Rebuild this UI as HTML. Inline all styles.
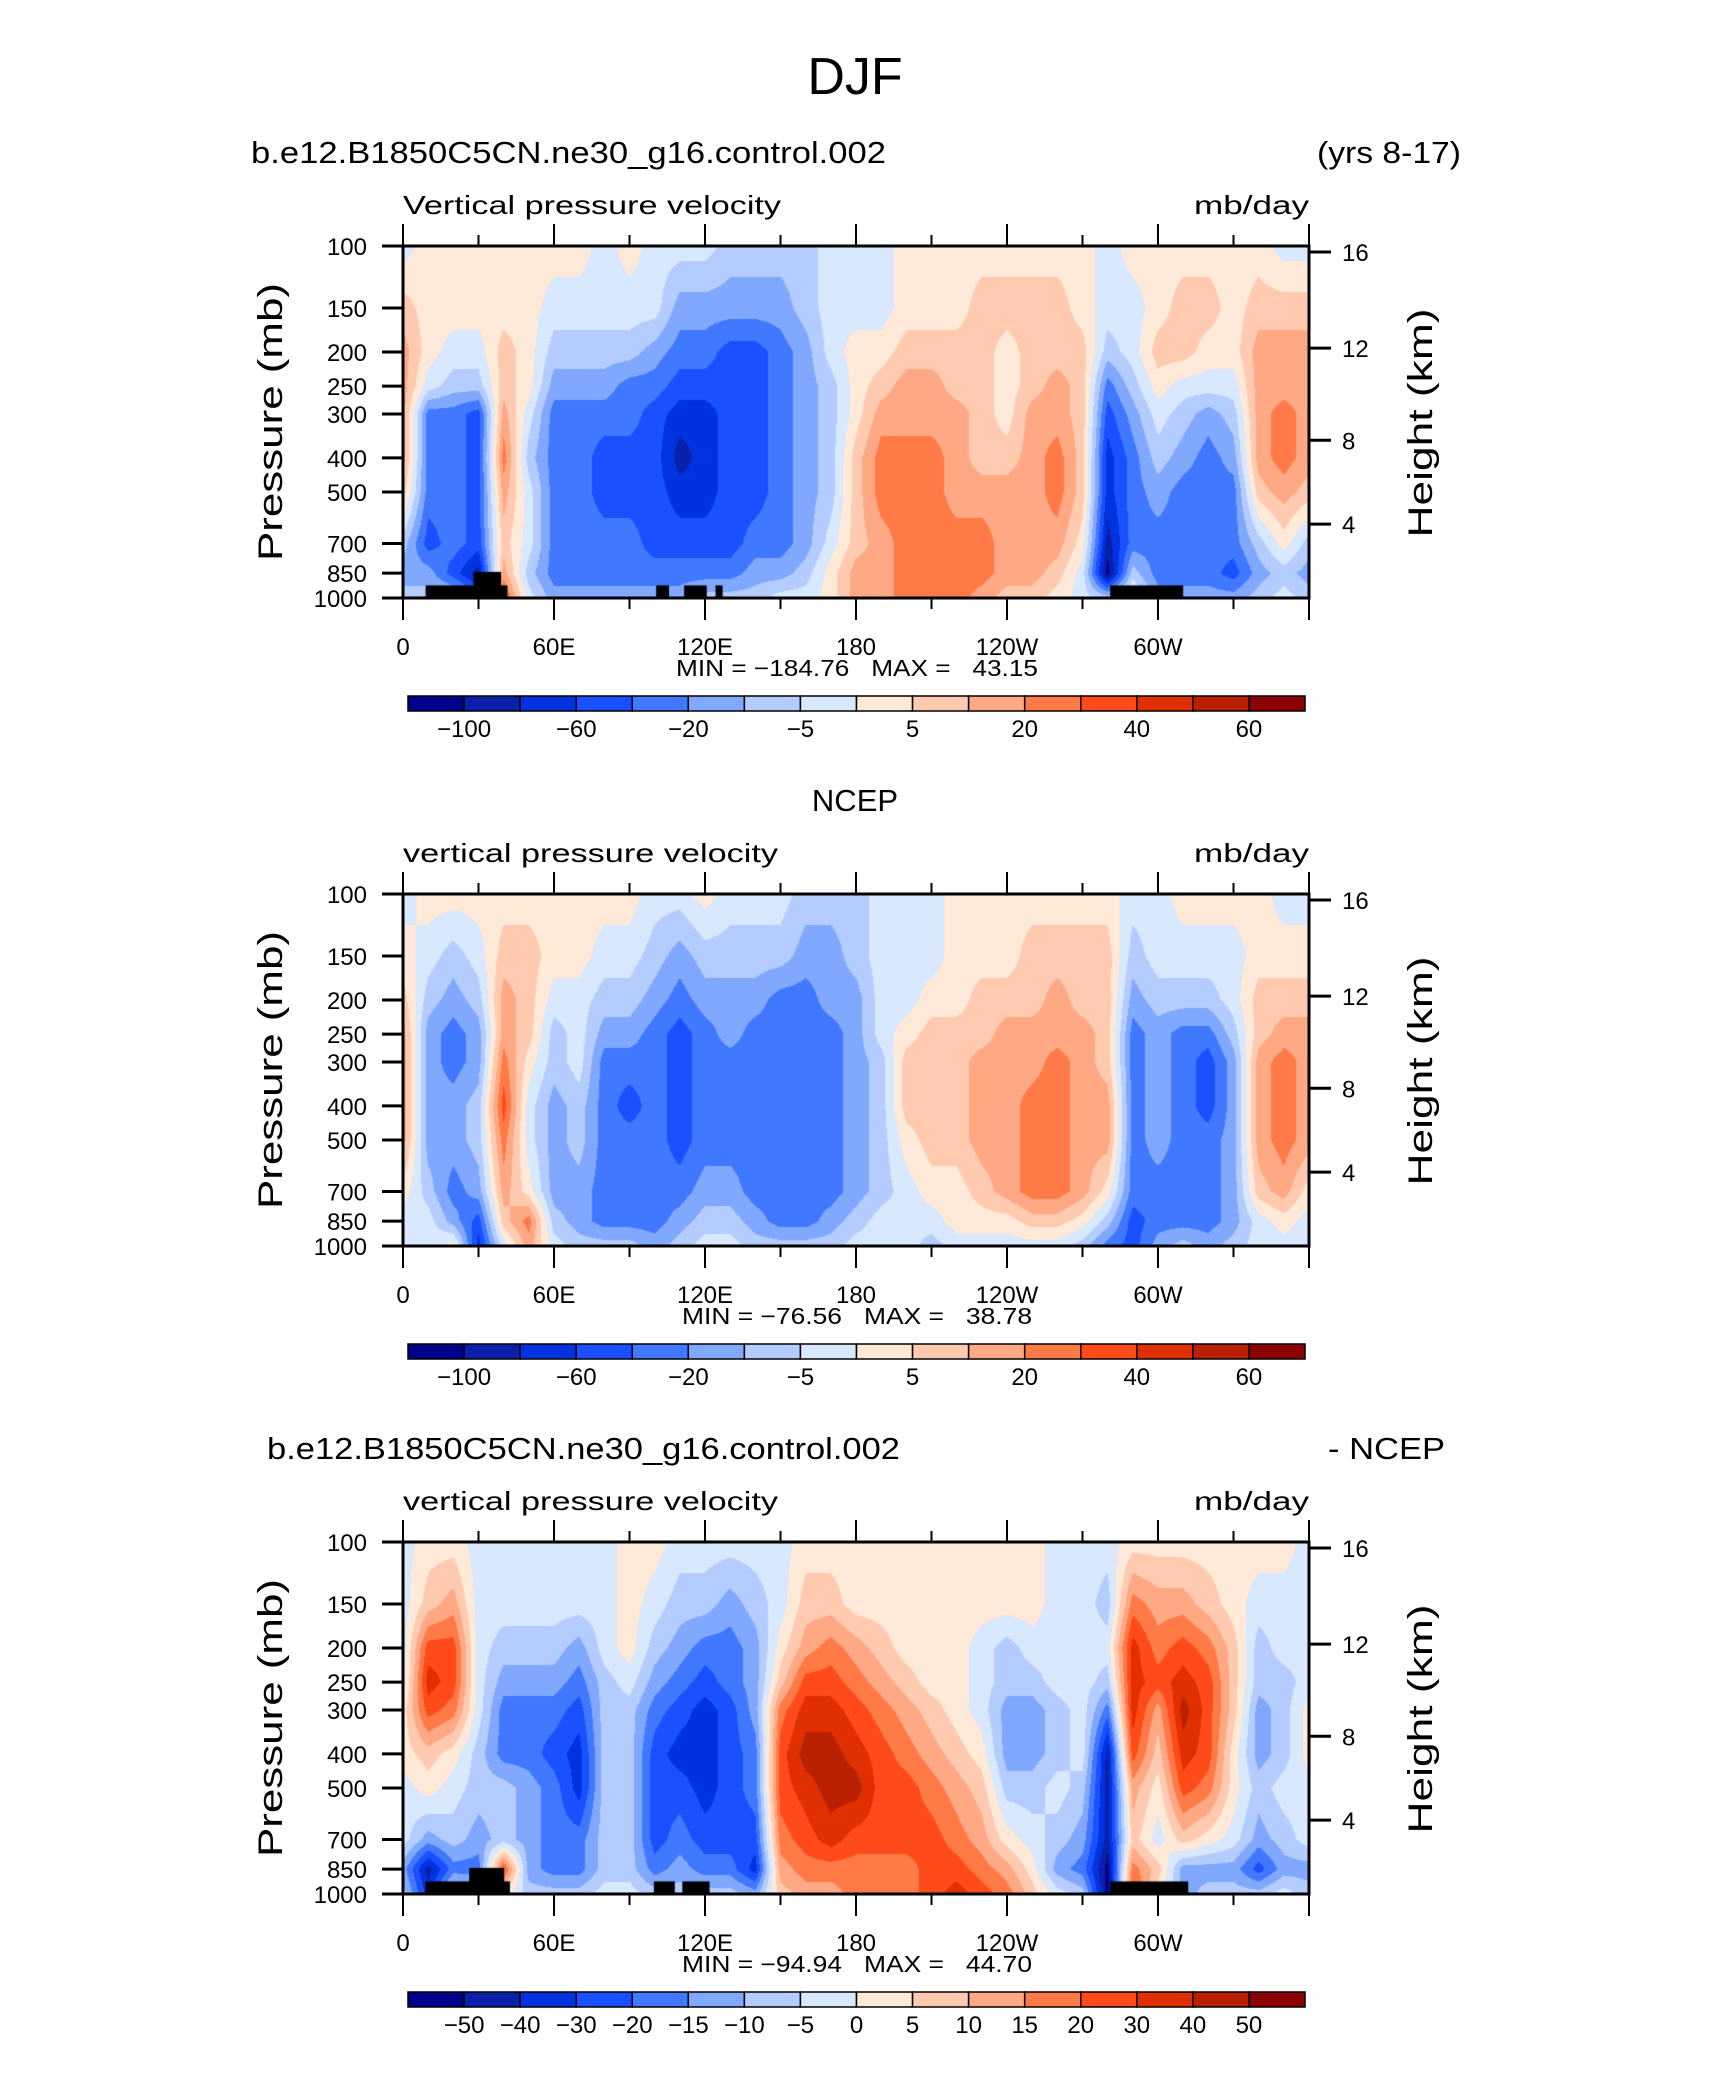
<!DOCTYPE html>
<html><head><meta charset="utf-8"><title>DJF vertical pressure velocity</title>
<style>
html,body{margin:0;padding:0;background:#fff;}
#wrap{position:relative;width:1710px;height:2074px;overflow:hidden;background:#fff;}
canvas{position:absolute;}
svg{position:absolute;left:0;top:0;}
text{font-family:"Liberation Sans",sans-serif;fill:#000;white-space:pre;}
</style></head>
<body>
<div id="wrap">
<canvas id="c0" width="906" height="352" style="left:403px;top:246px"></canvas>
<canvas id="c1" width="906" height="352" style="left:403px;top:894px"></canvas>
<canvas id="c2" width="906" height="352" style="left:403px;top:1542px"></canvas>
<svg id="svg" width="1710" height="2074"></svg>
</div>
<script>
// ---------- data ----------
const LONS = [0,10,20,30,40,50,60,70,80,90,100,110,120,130,140,150,160,170,180,190,200,210,220,230,240,250,260,270,280,290,300,310,320,330,340,350,360];
const PLEV = [100,150,200,250,300,400,500,700,850,1000];
const pTickLabels = ['100','150','200','250','300','400','500','700','850','1000'];
const hTickLabels = ['16','12','8','4'];
const hTickFrac = [0.017,0.29,0.552,0.79];
const lonTicks = [0,60,120,180,240,300];
const lonTickLabels = ['0','60E','120E','180','120W','60W'];
const levels12 = ['−100','−80','−60','−40','−20','−10','−5','0','5','10','20','30','40','50','60'];
const levelsDiff = ['−50','−40','−30','−20','−15','−10','−5','0','5','10','15','20','30','40','50'];
const labelEvery12 = [1,0,1,0,1,0,1,0,1,0,1,0,1,0,1];
const COLORS = ['#00008c','#0a20aa','#0032e0','#1a50ff','#4078ff','#80a8ff','#b4ccff','#d8e8ff','#ffe9d8','#ffcab0','#ffa884','#ff7a46','#ff4a1a','#e03000','#b82000','#8b0000'];

// contour class per longitude column (rows = PLEV, top to bottom)
const ctrlClass = [
[7,9,10,10,10,10,9,6,5,6],[8,8,8,7,4,4,4,3,5,6],[8,8,7,6,4,4,4,4,3,6],[8,8,7,6,3,3,3,3,1,4],
[8,8,9,9,10,11,10,9,10,12],[8,8,8,8,7,6,7,7,6,7],[8,7,6,5,4,4,4,4,4,5],[8,7,6,5,4,4,4,4,4,5],
[7,7,6,5,4,3,3,4,4,5],[8,7,6,4,4,3,3,4,4,5],[7,7,5,4,3,3,3,3,4,5],[7,5,4,3,2,1,2,3,4,5],
[7,5,4,3,2,2,2,3,4,6],[6,5,3,3,3,3,3,3,4,6],[6,5,3,3,3,3,3,4,5,6],[6,5,4,4,4,4,4,4,5,7],
[6,6,5,5,5,5,5,5,6,7],[7,7,7,6,6,6,6,7,8,8],[7,7,8,8,8,9,9,9,10,10],[7,7,8,9,10,11,11,10,10,10],
[8,8,9,10,10,11,11,11,11,11],[8,8,9,10,10,11,11,11,11,11],[8,8,9,9,10,10,10,11,11,11],[8,9,9,9,9,9,10,11,11,10],
[8,9,8,8,8,9,10,10,10,9],[8,9,9,9,10,10,10,10,10,9],[8,9,9,10,10,11,11,10,9,8],[8,8,9,9,9,9,9,8,7,7],
[7,7,6,4,3,2,2,1,0,6],[8,7,7,6,5,4,4,4,6,8],[8,8,9,8,7,6,5,4,4,5],[8,9,9,7,6,5,4,4,4,5],
[8,9,8,7,5,4,4,4,4,5],[8,8,8,7,6,5,4,4,3,5],[8,9,10,10,10,10,9,6,5,6],[7,9,10,10,11,11,10,8,6,7],
[7,9,10,10,10,10,9,6,5,6]];
const ncepClass = [
[7,8,9,10,10,10,10,8,7,7],[8,7,6,5,5,5,5,6,7,7],[8,6,5,4,4,5,5,4,5,8],[8,7,6,5,5,6,6,5,3,2],
[8,9,10,10,11,12,11,10,9,7],[8,9,9,9,8,7,7,8,11,10],[8,8,7,6,6,5,5,5,6,7],[8,8,7,7,7,6,6,5,5,6],
[8,7,6,5,4,4,4,4,4,6],[8,7,6,5,4,3,4,4,4,6],[7,6,5,4,4,4,4,4,4,5],[7,5,4,3,3,3,3,4,5,6],
[8,6,5,4,4,4,4,5,6,7],[7,6,5,5,4,4,4,5,6,7],[7,6,5,4,4,4,4,4,5,6],[7,6,4,4,4,4,4,4,4,6],
[6,5,4,4,4,4,4,4,4,6],[6,5,5,4,4,4,4,4,5,6],[6,6,5,5,5,5,5,5,6,7],[7,7,7,7,6,6,6,6,7,7],
[7,7,7,8,9,9,8,7,7,7],[7,7,8,9,9,9,9,8,7,6],[8,8,8,9,9,9,9,8,8,7],[8,8,9,9,10,10,10,9,8,7],
[8,8,9,10,10,10,10,10,8,7],[8,9,9,10,10,11,11,11,9,7],[8,9,10,10,11,11,11,11,9,7],[8,9,9,10,10,10,10,10,8,6],
[8,9,9,9,9,10,10,8,6,4],[7,6,5,4,4,4,4,4,3,3],[7,7,6,5,5,5,5,4,4,5],[8,7,6,4,4,4,4,4,4,6],
[8,7,6,4,3,3,4,4,4,5],[8,7,7,6,5,5,5,5,5,6],[8,8,9,9,10,10,10,9,7,7],[7,8,9,10,11,11,11,10,8,7],
[7,8,9,10,10,10,10,8,7,7]];
const diffClass = [
[7,7,7,7,8,8,7,7,5,6],[8,9,12,13,12,9,8,5,1,2],[8,10,12,12,11,8,7,6,4,7],[7,7,7,7,7,6,6,5,4,6],
[7,7,6,5,4,4,6,6,12,8],[7,7,6,5,4,4,5,5,5,6],[7,7,6,5,4,3,4,4,4,6],[7,7,5,4,3,2,2,4,4,6],
[7,7,7,6,6,6,6,6,6,7],[8,8,8,7,6,6,6,6,6,7],[8,7,6,5,4,3,3,3,4,6],[7,6,5,4,3,2,3,4,5,6],
[7,6,4,3,2,2,2,3,4,6],[7,5,4,4,3,3,3,3,4,6],[7,6,5,5,5,4,4,3,2,5],[7,7,8,9,11,12,12,11,10,9],
[8,9,10,12,13,14,13,12,11,10],[8,9,11,12,13,14,14,13,11,10],[8,8,10,11,12,13,14,12,11,11],[8,8,9,10,11,12,12,12,11,11],
[8,8,8,9,10,11,12,12,11,11],[8,8,8,8,9,10,11,12,12,12],[8,8,8,8,8,9,10,11,12,13],[8,8,7,7,7,8,9,10,11,12],
[8,8,6,6,5,5,6,8,10,11],[8,8,7,6,5,5,6,7,8,9],[7,7,7,7,6,6,7,6,5,7],[7,7,7,7,7,7,6,5,4,6],
[7,6,7,6,4,1,1,1,0,0],[8,11,13,13,13,12,10,9,11,12],[8,10,11,12,10,9,8,7,9,8],[8,10,12,13,14,13,12,9,5,5],
[8,9,11,12,12,12,11,8,5,6],[8,8,9,9,9,8,8,7,5,6],[8,7,6,6,5,5,6,5,3,6],[8,7,7,6,6,6,7,6,5,7],
[7,7,7,7,8,8,7,7,5,6]];
// land masks: [lon0, lon1, top pressure]
const landCtrl = [[9,41.5,921],[28,39,843],[100.6,105.7,921],[111.7,120.7,921],[124.2,127,921],[281,310,921]];
const landNcep = [];
const landDiff = [[8.8,42.5,921],[26.3,40.2,843],[99.7,108,921],[111,121.8,921],[281,312,921]];

const PANELS = [
 {top:246, canvas:'c0', cls:ctrlClass, land:landCtrl, levels:levels12, lblMask:labelEvery12,
  sub:'b.e12.B1850C5CN.ne30_g16.control.002', subX:251, subLen:635, right:'(yrs 8-17)', rightX:1317, rightLen:144,
  varName:'Vertical pressure velocity', varLen:378, minmax:'MIN = −184.76   MAX =   43.15', mmX:676, mmLen:362},
 {top:894, canvas:'c1', cls:ncepClass, land:landNcep, levels:levels12, lblMask:labelEvery12,
  center:'NCEP', varName:'vertical pressure velocity', varLen:375, minmax:'MIN = −76.56   MAX =   38.78', mmX:682, mmLen:350},
 {top:1542, canvas:'c2', cls:diffClass, land:landDiff, levels:levelsDiff, lblMask:[1,1,1,1,1,1,1,1,1,1,1,1,1,1,1],
  sub:'b.e12.B1850C5CN.ne30_g16.control.002', subX:267, subLen:633, right:'- NCEP', rightX:1328, rightLen:117,
  varName:'vertical pressure velocity', varLen:375, minmax:'MIN = −94.94   MAX =   44.70', mmX:682, mmLen:350}
];

// ---------- geometry ----------
const PX = 403, PW = 906, PH = 352;
function xOf(lon){ return PX + lon/360*PW; }
function fracOfP(p){ return Math.log10(p/100); }
function hex(c){ return [parseInt(c.slice(1,3),16),parseInt(c.slice(3,5),16),parseInt(c.slice(5,7),16)]; }
const RGB = COLORS.map(hex);
const LOGP = PLEV.map(fracOfP);

function drawField(pn){
  const cv = document.getElementById(pn.canvas);
  const ctx = cv.getContext('2d');
  const img = ctx.createImageData(PW, PH);
  const d = img.data;
  const nl = LONS.length;
  for (let y=0;y<PH;y++){
    const f = (y+0.5)/PH;
    let j=0; while(j<PLEV.length-2 && LOGP[j+1]<f) j++;
    const t = Math.min(1,Math.max(0,(f-LOGP[j])/(LOGP[j+1]-LOGP[j])));
    for (let x=0;x<PW;x++){
      const lon = (x+0.5)/PW*360;
      let i = Math.min(nl-2, Math.floor(lon/10));
      const s = (lon - LONS[i])/(LONS[i+1]-LONS[i]);
      const a = pn.cls[i][j]*(1-t) + pn.cls[i][j+1]*t;
      const b = pn.cls[i+1][j]*(1-t) + pn.cls[i+1][j+1]*t;
      let v = Math.round(a*(1-s)+b*s);
      v = Math.max(0,Math.min(15,v));
      const k=(y*PW+x)*4, c=RGB[v];
      d[k]=c[0];d[k+1]=c[1];d[k+2]=c[2];d[k+3]=255;
    }
  }
  ctx.putImageData(img,0,0);
  ctx.fillStyle='#000';
  pn.land.forEach(L=>{
    const x0=L[0]/360*PW, x1=L[1]/360*PW, y0=fracOfP(L[2])*PH;
    ctx.fillRect(x0,y0,x1-x0,PH-y0);
  });
}

// ---------- svg ----------
const NS='http://www.w3.org/2000/svg';
const svg=document.getElementById('svg');
function mk(tag, attrs, parent){
  const e=document.createElementNS(NS,tag);
  for(const k in attrs) e.setAttribute(k,attrs[k]);
  (parent||svg).appendChild(e); return e;
}
function txt(str, attrs, parent){ const e=mk('text',attrs,parent); e.textContent=str; return e; }

const title = txt('DJF',{x:855,y:94,'font-size':52,'text-anchor':'middle','font-weight':'300'});



PANELS.forEach((pn,pi)=>{
  drawField(pn);
  const T=pn.top, B=T+PH;
  const g=mk('g',{});
  
  
  if(pn.sub){
    const s=txt(pn.sub,{x:pn.subX,y:T-83,'font-size':31,textLength:pn.subLen,lengthAdjust:'spacingAndGlyphs'},g);
    
    
    const r=txt(pn.right,{x:pn.rightX,y:T-83,'font-size':31,textLength:pn.rightLen,lengthAdjust:'spacingAndGlyphs'},g);
    
    
  }
  if(pn.center){
    const c=txt(pn.center,{x:855,y:T-83,'font-size':31,'text-anchor':'middle'},g);
    
    
  }
  const vn=txt(pn.varName,{x:403,y:T-32,'font-size':26,textLength:pn.varLen,lengthAdjust:'spacingAndGlyphs'},g);
  
  
  const un=txt('mb/day',{x:1194,y:T-32,'font-size':26,textLength:115,lengthAdjust:'spacingAndGlyphs'},g);
  
  
  const fr=mk('rect',{x:PX,y:T,width:PW,height:PH,fill:'none',stroke:'#000','stroke-width':3},g);
  
  
  for(let lon=0; lon<=360; lon+=30){
    const major = lon%60===0;
    const x=xOf(lon), L= major?22:11;
    const t1=mk('line',{x1:x,x2:x,y1:T,y2:T-L,stroke:'#000','stroke-width':2},g);
    
    
    const t2=mk('line',{x1:x,x2:x,y1:B,y2:B+L,stroke:'#000','stroke-width':2},g);
    
    
  }
  lonTicks.forEach((lon,k)=>{
    const l=txt(lonTickLabels[k],{x:xOf(lon),y:B+57,'font-size':24,'text-anchor':'middle'},g);
    
    
  });
  PLEV.forEach((p,k)=>{
    const y=T+fracOfP(p)*PH;
    const t=mk('line',{x1:PX-21,x2:PX,y1:y,y2:y,stroke:'#000','stroke-width':3},g);
    
    
    const l=txt(pTickLabels[k],{x:367,y:y+9,'font-size':24,'text-anchor':'end'},g);
    
    
  });
  hTickFrac.forEach((f,k)=>{
    const y=T+f*PH;
    const t=mk('line',{x1:PX+PW,x2:PX+PW+22,y1:y,y2:y,stroke:'#000','stroke-width':3},g);
    
    
    const l=txt(hTickLabels[k],{x:1342,y:y+9,'font-size':24},g);
    
    
  });
  const yt=txt('Pressure (mb)',{x:0,y:0,'font-size':34,'text-anchor':'middle',textLength:278,lengthAdjust:'spacingAndGlyphs',transform:'translate(282,'+(T+176)+') rotate(-90)'},g);
  
  
  const ht=txt('Height (km)',{x:0,y:0,'font-size':34,'text-anchor':'middle',textLength:229,lengthAdjust:'spacingAndGlyphs',transform:'translate(1432,'+(T+177)+') rotate(-90)'},g);
  
  
  const mm=txt(pn.minmax,{x:pn.mmX,y:B+78,'font-size':23,textLength:pn.mmLen,lengthAdjust:'spacingAndGlyphs','xml:space':'preserve'},g);
  
  
  const cbX=408, cbW=897, cbY=B+98, cbH=15, bw=cbW/COLORS.length;
  const cb=mk('g',{},g);
  
  
  COLORS.forEach((c,k)=>{
    const r=mk('rect',{x:cbX+k*bw,y:cbY,width:bw,height:cbH,fill:c,stroke:'#000','stroke-width':1.5},cb);
    
    
  });
  pn.levels.forEach((lv,k)=>{
    if(!pn.lblMask[k]) return;
    const l=txt(lv,{x:cbX+(k+1)*bw,y:cbY+41,'font-size':24,'text-anchor':'middle'},cb);
    
    
  });
});
</script>
</body></html>
